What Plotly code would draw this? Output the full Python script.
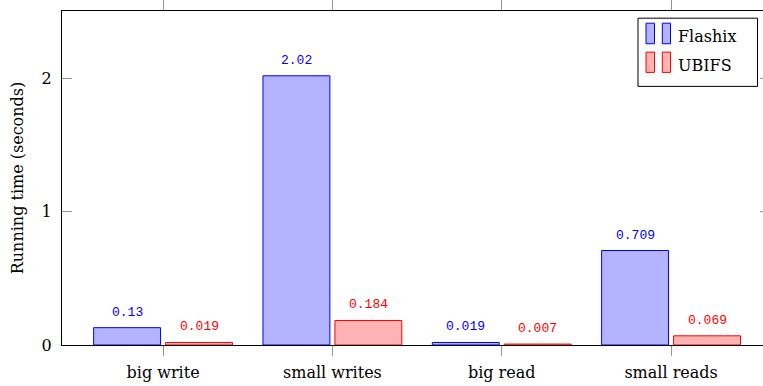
import plotly.graph_objects as go

categories = ["big write", "small writes", "big read", "small reads"]
flashix = [0.13, 2.02, 0.019, 0.709]
ubifs = [0.019, 0.184, 0.007, 0.069]
flashix_labels = ["0.13", "2.02", "0.019", "0.709"]
ubifs_labels = ["0.019", "0.184", "0.007", "0.069"]
y_ticks = [0, 1, 2]

BLUE = "rgb(0,0,255)"
BLUE_FILL = "rgb(179,179,255)"
RED = "rgb(255,0,0)"
RED_FILL = "rgb(255,179,179)"
TICK_GRAY = "rgb(150,150,150)"
SERIF = "DejaVu Serif"
LABEL_FONT = "Liberation Mono"

fig = go.Figure()
fig.add_trace(go.Bar(
    name="Flashix", x=categories, y=flashix,
    marker=dict(color=BLUE_FILL, line=dict(color=BLUE, width=1)),
))
fig.add_trace(go.Bar(
    name="UBIFS", x=categories, y=ubifs,
    marker=dict(color=RED_FILL, line=dict(color=RED, width=1)),
))

# value labels above each bar
annotations = []
for cat, v, txt in zip(categories, flashix, flashix_labels):
    annotations.append(dict(x=cat, y=v, text=txt, xref="x", yref="y",
                            showarrow=False, xshift=-36, yshift=6, yanchor="bottom",
                            font=dict(family=LABEL_FONT, size=13, color=BLUE)))
for cat, v, txt in zip(categories, ubifs, ubifs_labels):
    annotations.append(dict(x=cat, y=v, text=txt, xref="x", yref="y",
                            showarrow=False, xshift=36, yshift=6, yanchor="bottom",
                            font=dict(family=LABEL_FONT, size=13, color=RED)))

# legend drawn as a boxed key with paired bar glyphs
W, H = 763, 386
ML, MR, MT, MB = 62, 0, 10.5, 41
pw, ph = W - ML - MR, H - MT - MB

def px_x(p):
    return (p - ML) / pw

def px_y(p):
    return 1 - (p - MT) / ph

shapes = [dict(type="rect", xref="paper", yref="paper",
               x0=px_x(638), x1=px_x(757.5), y0=px_y(86), y1=px_y(17.7),
               line=dict(color="black", width=1), fillcolor="white", layer="above")]
legend_rows = [("Flashix", BLUE, BLUE_FILL, 22.7, 43.3, 36),
               ("UBIFS", RED, RED_FILL, 51.7, 72, 65)]
for name, lc, fc, top, bot, mid in legend_rows:
    for x0, x1 in [(646, 654.5), (662.3, 670.5)]:
        shapes.append(dict(type="rect", xref="paper", yref="paper",
                           x0=px_x(x0), x1=px_x(x1), y0=px_y(bot), y1=px_y(top),
                           line=dict(color=lc, width=1), fillcolor=fc, layer="above"))
    annotations.append(dict(x=px_x(676), y=px_y(mid), xref="paper", yref="paper",
                            text=name, showarrow=False, xanchor="left", yanchor="middle",
                            font=dict(family=SERIF, size=16, color="black")))

# stubs of the inward ticks on the right-hand axis at the plot edge
for t in y_ticks[1:]:
    shapes.append(dict(type="line", xref="paper", yref="y",
                       x0=px_x(760), x1=1, y0=t, y1=t,
                       line=dict(color=TICK_GRAY, width=1)))

fig.update_layout(
    width=W, height=H,
    margin=dict(l=ML, r=MR, t=MT, b=MB, pad=0),
    barmode="group", bargap=0.15, bargroupgap=0.07,
    plot_bgcolor="white", paper_bgcolor="white",
    showlegend=False,
    annotations=annotations, shapes=shapes,
    font=dict(family=SERIF, size=16, color="black"),
)
fig.update_xaxes(
    range=[-0.597, 3.543], showgrid=False, zeroline=False,
    showline=True, linecolor="black", linewidth=1, mirror="allticks",
    ticks="outside", ticklen=10, tickcolor=TICK_GRAY, tickwidth=1,
    tickfont=dict(family=SERIF, size=16), ticklabelstandoff=3,
)
fig.update_yaxes(
    range=[0, 2.506], showgrid=False, zeroline=False,
    showline=True, linecolor="black", linewidth=1,
    ticks="inside", ticklen=10, tickcolor=TICK_GRAY, tickwidth=1,
    tickvals=y_ticks, ticktext=[str(t) for t in y_ticks],
    tickfont=dict(family=SERIF, size=16), ticklabelstandoff=6,
    title=dict(text="Running time (seconds)", font=dict(family=SERIF, size=16), standoff=14),
)

fig.write_html("out.html")
